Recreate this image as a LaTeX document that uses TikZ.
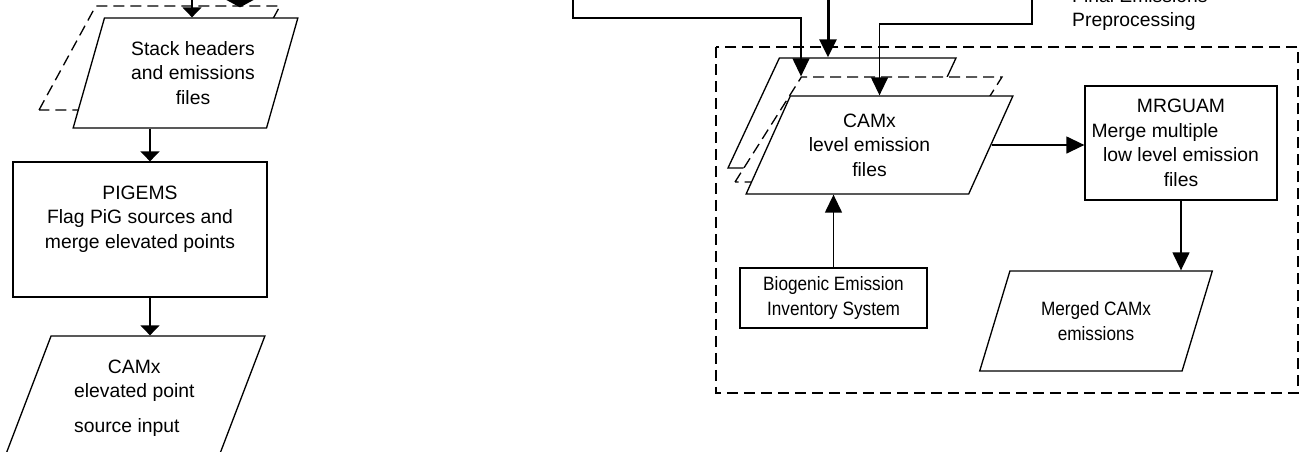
\documentclass[tikz,border=0pt]{standalone}
\usepackage{fontspec}
\setmainfont{Liberation Sans}
\usetikzlibrary{shapes.geometric,arrows.meta}
\tikzset{
  box/.style={draw,line width=0.75pt,fill=white,align=center,inner sep=1pt},
  filebox/.style={trapezium,trapezium stretches=true,draw,line width=0.75pt,fill=white,align=center,inner sep=1pt},
  narrow/.style={font=\fontsize{11}{14}\selectfont\addfontfeatures{FakeStretch=0.89}},
  dashline/.style={dash pattern=on 0.22cm off 0.12cm},
  arr/.style={line width=0.75pt,-{Triangle[width=0.34cm,length=0.36cm]}},
  arrf/.style={line width=0.75pt,-{Triangle[width=0.38cm,length=0.2cm]}},
}
\begin{document}
\begin{tikzpicture}[x=0.02cm,y=-0.02cm,font=\fontsize{11}{14}\selectfont]
  \useasboundingbox (0,0) rectangle (1299,451);
  % left column
  \node[filebox,dashline,trapezium left angle=66,trapezium right angle=114,
        minimum width=4.82cm,minimum height=2.08cm] (stackb) at (159.5,58) {};
  \node[filebox,trapezium left angle=67.7,trapezium right angle=112.3,
        minimum width=4.5cm,minimum height=2.2cm] (stack) at (185.5,73)
        {\kern0.3cm Stack headers\\\kern0.3cm and emissions\\\kern0.3cm files};
  \node[box,minimum width=5.08cm,minimum height=2.7cm] (pigems) at (140,229.5)
        {PIGEMS\\Flag PiG sources and\\merge elevated points\\\mbox{}};
  \node[filebox,trapezium left angle=66.3,trapezium right angle=113.7,
        minimum width=5.23cm,minimum height=2.48cm] (camxe) at (134.3,398)
        {CAMx\\elevated point\\[0.2cm]source input\kern0.3cm};
  % final emissions preprocessing
  \draw[line width=0.75pt,dashline] (716,47) rectangle (1298,393);
  \node[align=left,anchor=west] (fep) at (1066,9.5) {Final Emissions\\Preprocessing};
  \node[filebox,trapezium left angle=67.7,trapezium right angle=112.3,
        minimum width=4.56cm,minimum height=2.2cm] (l1) at (842,113) {};
  \node[filebox,dashline,trapezium left angle=63.7,trapezium right angle=116.3,
        minimum width=5.34cm,minimum height=2.1cm] (l2) at (868.5,129.5) {};
  \node[filebox,trapezium left angle=61.6,trapezium right angle=118.4,
        minimum width=5.34cm,minimum height=1.96cm] (camxl) at (879.5,145)
        {CAMx\kern0.4cm\\level emission\kern0.4cm\\files\kern0.4cm};
  \node[box,minimum width=3.84cm,minimum height=2.28cm] (mrguam) at (1181,143)
        {MRGUAM\\Merge multiple\kern1.04cm\\low level emission\\files};
  \node[box,narrow,minimum width=3.74cm,minimum height=1.2cm] (bio) at (833.5,298)
        {Biogenic Emission\\Inventory System};
  \node[filebox,narrow,trapezium left angle=64.8,trapezium right angle=115.2,
        minimum width=4.68cm,minimum height=2cm] (merged) at (1096,321)
        {Merged CAMx\\emissions};
  % connectors
  \coordinate (inA) at (573,-5);
  \coordinate (inB) at (828,-5);
  \coordinate (inC) at (1032,-5);
  \coordinate (inD) at (192,-5);
  \coordinate (inE) at (240,-10);
  \coordinate (lx) at (150,0);
  \draw[arr] (inA) -- ++(0,23) -| (l2.top left corner);
  \draw[arr,line width=1.7pt] (inB) -- (inB |- l1.north);
  \draw[arr] (inC) -- ++(0,29) -| (camxl.north);
  \draw[arrf] (inD) -- (inD |- stack.north);
  \draw[line width=1.7pt,-{Triangle[width=1.1cm,length=0.3cm]}] (inE) -- ([yshift=-0.04cm]inE |- stackb.north);
  \draw[arrf] (stack.south -| lx) -- (pigems.north -| lx);
  \draw[arrf] (pigems.south -| lx) -- (camxe.north -| lx);
  \draw[arr] (bio.north) -- (bio.north |- camxl.south);
  \draw[arr] (camxl.east) -- (camxl.east -| mrguam.west);
  \draw[arr] (mrguam.south) -- (mrguam.south |- merged.north);
\end{tikzpicture}
\end{document}
